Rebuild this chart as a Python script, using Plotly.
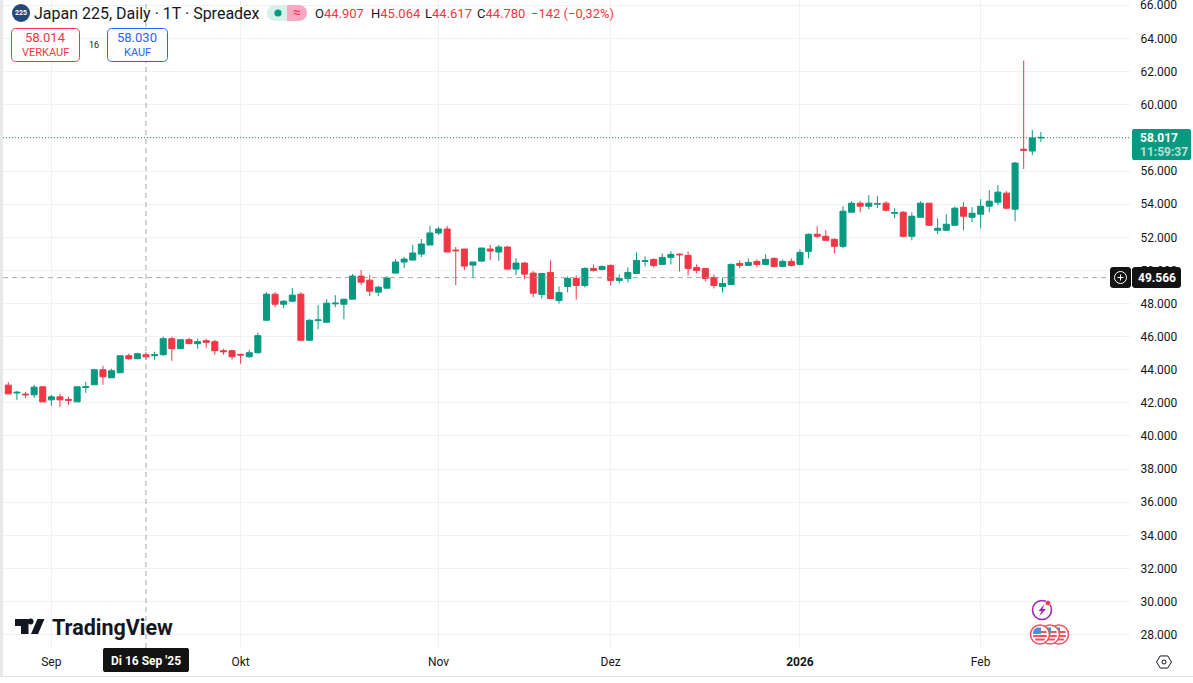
import math
import plotly.graph_objects as go

opens = [43071,42600,42530,42485,42970,42182,42364,42210,42061,42930,43091,44000,43515,43818,44848,44667,44907,44850,44909,45879,45273,45818,45576,45757,45697,45151,45151,44930,44788,45030,
46990,48565,47959,48141,48565,45778,46970,46869,47980,47959,48262,49656,49414,48687,48929,49838,50505,50626,50989,51535,52262,52504,51230,51292,50323,50565,51292,51111,51414,50080,
50444,49838,48545,49879,48182,49030,49515,49091,50121,50060,50303,49394,49515,49818,50545,50666,50363,50788,50980,50909,50182,50121,49576,49030,49151,50424,50303,50545,50363,50727,
50242,50545,50364,51152,52182,52061,51879,51455,53515,54060,53879,54000,54060,53450,53515,52061,53212,54060,52424,52424,52727,53818,53212,53394,53879,54121,54666,53697,57320,57212,58000]
highs = [43253,42727,42667,43091,42970,42485,42546,42364,42970,43273,44061,44242,44061,44848,44970,45030,45064,45091,46000,46000,45818,45939,45879,45879,45818,45273,45212,44970,45212,46242,
48687,48687,48202,48929,48687,47050,47899,48262,48505,48262,49777,50020,49717,49050,49656,50686,50808,51535,51898,52686,52626,52686,51414,51292,50505,51353,51535,51535,51474,50747,
50505,49959,49818,50606,49030,49636,49697,50182,50363,50303,50363,49757,50182,51091,50848,50727,51030,51151,51030,51151,50363,50121,49757,49576,50424,50606,50727,50666,50969,50788,
50666,50727,51273,52242,52667,52424,51939,53879,54182,54182,54545,54485,54182,53757,53576,53515,54182,54060,53151,53394,53879,54121,53818,54303,54848,55151,54788,56545,62666,58484,58363]
lows = [42546,42182,42303,42303,42061,41818,41758,41879,42061,42606,43091,43091,43515,43818,44606,44667,44617,44606,44848,44545,45273,45576,45273,45333,44909,44909,44606,44364,44727,44970,
46990,47778,47717,48081,45778,45778,46444,46869,47778,47050,48262,49111,48444,48444,48929,49838,50141,50626,50808,51535,52141,51111,49111,50020,49535,50505,50626,50565,50020,49717,
49474,48384,48303,48303,48000,48667,48242,48970,49939,50000,49091,49212,49273,49818,50242,50182,50363,50363,49939,49697,49818,49333,48909,48667,49151,50121,50303,50182,50363,50182,
50182,50242,50300,50727,51939,51818,51030,51333,53515,53515,53697,53757,53576,53151,52000,51818,53212,52727,52182,52424,52727,52424,52909,52545,53515,53939,53697,52970,56121,56969,57757]
closes = [42546,42640,42490,42950,42061,42364,42182,42160,42970,42970,44000,43576,43939,44848,44667,44970,44780,44909,45879,45273,45818,45576,45697,45656,45151,45091,44788,44890,45030,46060,
48565,47959,48141,48505,45778,46990,47010,48020,48020,48262,49656,49293,48747,48990,49535,50505,50686,51050,51595,52262,52504,51111,51190,50262,50505,51353,51171,51414,50080,50444,
49777,48626,49818,48303,48667,49515,49091,50121,50000,50242,49394,49515,49879,50606,50585,50303,50788,50969,50950,50121,50000,49515,49091,49212,50363,50303,50485,50363,50666,50242,
50545,50303,51091,52182,52061,51818,51455,53576,54060,53879,54060,54040,53636,53490,52061,53273,54060,52727,52545,52788,53757,53273,53454,53879,54182,54727,53757,56484,57260,57999,58034]

month_labels = ["Sep", "Okt", "Nov", "Dez", "<b>2026</b>", "Feb"]
month_bars = [5, 27, 50, 70, 92, 113]
price_ticks = list(range(28000, 66001, 2000))
hidden_tick = 58000
top_tick = 66000
price_labels = ["" if p in (hidden_tick, top_tick) else f"{p // 1000}.000" for p in price_ticks]
last_price = 58017
cross_price = 49566
cross_bar = 16

W, H = 1193, 683
PLOT_L, PLOT_R, PLOT_B = 3, 1130, 648
RED, GREEN, BLUE, DARK = "#f23645", "#089981", "#2962ff", "#131722"
BAR = 8.605
BAR0 = 8.3
FONT = "Roboto"


def px(x):
    return x / W


def py(y):
    return 1 - y / H


def path(points, close=True):
    s = "M" + " L".join(f"{px(x):.5f},{py(y):.5f}" for x, y in points)
    return s + (" Z" if close else "")


def rrect(x0, y0, x1, y1, r):
    n = 5
    pts = []
    for cx, cy, a0 in [(x1 - r, y0 + r, -90), (x1 - r, y1 - r, 0), (x0 + r, y1 - r, 90), (x0 + r, y0 + r, 180)]:
        for k in range(n + 1):
            a = math.radians(a0 + 90 * k / n)
            pts.append((cx + r * math.cos(a), cy + r * math.sin(a)))
    return pts


shapes = []
annots = []


def poly(points, fill=None, line=None, lw=1, close=True):
    shapes.append(dict(type="path", xref="paper", yref="paper", path=path(points, close),
                       fillcolor=fill if fill else "rgba(0,0,0,0)",
                       line=dict(color=line if line else "rgba(0,0,0,0)", width=lw), layer="above"))


def circle(cx, cy, r, fill=None, line=None, lw=1):
    shapes.append(dict(type="circle", xref="paper", yref="paper",
                       x0=px(cx - r), x1=px(cx + r), y0=py(cy + r), y1=py(cy - r),
                       fillcolor=fill if fill else "rgba(0,0,0,0)",
                       line=dict(color=line if line else "rgba(0,0,0,0)", width=lw), layer="above"))


def label(text, x, y, size=12, color=DARK, anchor="center", family=FONT):
    annots.append(dict(text=text, x=px(x), y=py(y), xref="paper", yref="paper", showarrow=False,
                       xanchor=anchor, yanchor="middle", align=anchor,
                       font=dict(size=size, color=color, family=family), borderpad=0, borderwidth=0))


# left strip and bottom rule
poly([(0, 0), (3, 0), (3, 677), (0, 677)], fill="#e8e8ea")
poly([(0, 676), (W, 676), (W, 677), (0, 677)], fill="#e0e3eb")

# crosshair and price lines
bars = list(range(len(opens)))
shapes.append(dict(type="line", xref="x", yref="paper", x0=cross_bar, x1=cross_bar, y0=py(PLOT_B), y1=1,
                   line=dict(color="#8f929b", width=0.8, dash="5px,4px"), layer="above"))
shapes.append(dict(type="line", xref="paper", yref="y", x0=px(PLOT_L), x1=px(1110), y0=cross_price, y1=cross_price,
                   line=dict(color="#8f929b", width=0.8, dash="5px,4px"), layer="above"))
shapes.append(dict(type="line", xref="paper", yref="y", x0=px(PLOT_L), x1=px(PLOT_R), y0=last_price, y1=last_price,
                   line=dict(color="#3d7f72", width=1, dash="1px,2px"), layer="above"))

# header
circle(21, 13, 9, fill="#1e4a7c")
label("<b>225</b>", 21, 13, size=7, color="#ffffff")
label("Japan 225, Daily · 1T · Spreadex", 34, 13, size=16, anchor="left")
poly(rrect(267, 5, 297, 21, 8), fill="#d8f0ea")
poly(rrect(277, 5, 307, 21, 8), fill="#f5a9c2")
poly([(277, 5), (287, 5), (287, 21), (277, 21)], fill="#d8f0ea")
circle(278, 13, 3.6, fill=GREEN)
label("≈", 297, 12.5, size=14, color=RED)
for key, val, xpos in [("O", "44.907", 315), ("H", "45.064", 371), ("L", "44.617", 425), ("C", "44.780", 477)]:
    label(f"{key}<span style='color:{RED}'>{val}</span>", xpos, 13, size=13, anchor="left")
label("−142 (−0,32%)", 531, 13, size=13, color=RED, anchor="left")

poly(rrect(11.5, 28.5, 79.5, 61.5, 4), fill="#ffffff", line=RED)
label("58.014", 45, 38, size=13, color=RED)
label("VERKAUF", 45, 52, size=11, color=RED)
label("16", 94, 45, size=9, color=DARK)
poly(rrect(107.5, 28.5, 167.5, 61.5, 4), fill="#ffffff", line=BLUE)
label("58.030", 137, 38, size=13, color=BLUE)
label("KAUF", 137, 52, size=11, color=BLUE)

# top tick sits against the page edge
label("66.000", 1140, 5, size=12, anchor="left")

# right side price labels
poly(rrect(1132, 129, 1191, 160, 2), fill=GREEN)
label("<b>58.017</b>", 1140, 137.5, size=12, color="#ffffff", anchor="left")
label("<b>11:59:37</b>", 1140, 151.5, size=12, color="#b5e0d8", anchor="left")
poly(rrect(1110, 267, 1131, 288, 3), fill="#131313")
circle(1120.5, 277.5, 6, line="#ffffff", lw=1)
poly([(1117.5, 277.5), (1123.5, 277.5)], line="#ffffff", close=False)
poly([(1120.5, 274.5), (1120.5, 280.5)], line="#ffffff", close=False)
poly(rrect(1132, 267, 1181, 288, 3), fill="#131313")
label("<b>49.566</b>", 1157, 277.5, size=12, color="#ffffff")

# crosshair date box and hex button
poly(rrect(103, 648, 189, 672, 2), fill="#131313")
label("<b>Di 16 Sep '25</b>", 146, 661, size=12, color="#ffffff")
hex_pts = [(1164 + 7.5 * math.cos(math.radians(a)), 662 + 7 * math.sin(math.radians(a))) for a in range(0, 360, 60)]
poly(hex_pts, line=DARK, lw=1)
circle(1164, 662, 2, line=DARK, lw=1)

# TradingView logo
poly([(15, 619), (28.5, 619), (28.5, 634), (21, 634), (21, 626), (15, 626)], fill="#131722")
circle(30.6, 621.5, 2.9, fill="#131722")
poly([(37.5, 619), (44.5, 619), (38, 634), (31, 634)], fill="#131722")
label("<b>TradingView</b>", 52, 627, size=21.5, color="#131722", anchor="left")

# event icons
circle(1042, 610, 9.5, fill="#ffffff", line="#9c27b0", lw=1.6)
poly([(1044.5, 604), (1038.5, 611), (1041.5, 611), (1039.5, 616), (1046, 609), (1042.5, 609)], fill="#9c27b0")
circle(1048, 603, 2.6, fill=RED, line="#ffffff", lw=0.5)
for cx in (1059, 1050, 1040):
    cy, r = 634.5, 9.5
    circle(cx, cy, r, fill="#ffffff", line="#f7525f", lw=1.6)
    for dy in (-2.5, 1.5, 5):
        half = math.sqrt(max(7 ** 2 - dy ** 2, 0))
        poly([(cx - half, cy + dy - 1), (cx + half, cy + dy - 1), (cx + half, cy + dy + 1), (cx - half, cy + dy + 1)], fill="#f7525f")
    poly([(cx - 6, cy - 5), (cx - 3, cy - 7), (cx + 1, cy - 7), (cx + 1, cy - 0.5), (cx - 7, cy - 0.5)], fill="#4a90e2")

fig = go.Figure(go.Candlestick(
    x=bars, open=opens, high=highs, low=lows, close=closes,
    increasing=dict(line=dict(color=GREEN, width=1), fillcolor=GREEN),
    decreasing=dict(line=dict(color=RED, width=1), fillcolor=RED),
    whiskerwidth=0, hoverinfo="skip", showlegend=False))

Y_NUDGE = 40  # sub-pixel alignment of the price scale
fig.update_layout(
    width=W, height=H, autosize=False,
    margin=dict(l=0, r=0, t=0, b=0, pad=0),
    paper_bgcolor="#ffffff", plot_bgcolor="#ffffff",
    showlegend=False, shapes=shapes, annotations=annots,
    boxgap=0.0, boxgroupgap=0.3,
    font=dict(family=FONT, size=12, color=DARK),
    xaxis=dict(domain=[px(PLOT_L), px(PLOT_R)],
               range=[(PLOT_L - BAR0) / BAR, (PLOT_R - BAR0) / BAR],
               tickmode="array", tickvals=month_bars, ticktext=month_labels,
               showgrid=True, gridcolor="#f0f1f4", gridwidth=1, zeroline=False, showline=False,
               rangeslider=dict(visible=False), ticks="outside", ticklen=3, tickcolor="rgba(0,0,0,0)",
               tickfont=dict(size=12, color=DARK, family=FONT), tickangle=0),
    yaxis=dict(domain=[py(PLOT_B), 1], side="right",
               range=[28000 + (634 - PLOT_B) * 60.4 + Y_NUDGE, 28000 + 634 * 60.4 + Y_NUDGE],
               tickmode="array", tickvals=price_ticks, ticktext=price_labels,
               showgrid=True, gridcolor="#f0f1f4", gridwidth=1, zeroline=False, showline=False,
               ticks="outside", ticklen=7, tickcolor="rgba(0,0,0,0)",
               tickfont=dict(size=12, color=DARK, family=FONT)),
)

fig.write_html("out.html", config=dict(displayModeBar=False),
               post_script="document.body.style.margin='0';document.body.style.overflow='hidden';")
